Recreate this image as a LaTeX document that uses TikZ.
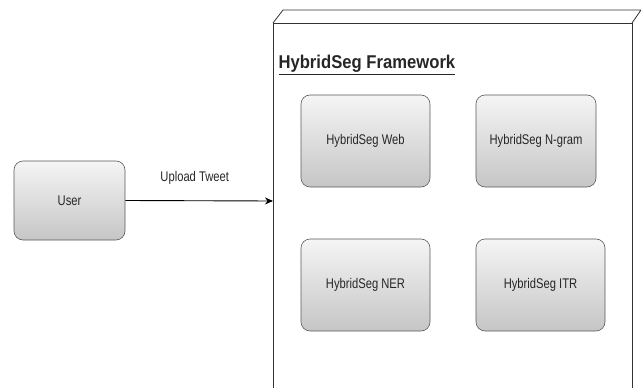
\documentclass[tikz,border=0pt]{standalone}
\usepackage{fontspec}
\setmainfont{Liberation Sans}
\newfontfamily\narrowfont[FakeStretch=0.8]{Liberation Sans}
\newfontfamily\titlefont[FakeStretch=0.9]{Liberation Sans}
\usetikzlibrary{arrows.meta}
\begin{document}
\begin{tikzpicture}[x=1pt,y=-1pt,
  box/.style={draw=gray!70!black,line width=0.6pt,rounded corners=9pt,
    top color=gray!8,bottom color=gray!45,font=\narrowfont\fontsize{14}{16}\selectfont,
    text=black!85,inner sep=0pt},
  frame/.style={draw=black!80,line width=0.8pt}]
\useasboundingbox (0,0) rectangle (641,388);
% cube frame
\coordinate (fl) at (273,23);
\coordinate (fr) at (632,23);
\coordinate (bl) at (283,10);
\coordinate (br) at (641,10);
\draw[frame] (273,400) -- (fl) -- (fr) -- (632,400);
\draw[frame] (fl) -- (bl) -- (br) -- (fr);
\draw[frame] (br) -- (641,400);
\node[anchor=base west,font=\titlefont\fontsize{18.5}{20}\selectfont\bfseries,text=black!85] (title) at (275,68.5) {\underline{HybridSeg Framework}};
% boxes
\node[box,minimum width=111pt,minimum height=79pt] (user) at (69.5,200.5) {User};
\node[box,minimum width=129pt,minimum height=92pt] (web) at (365.5,141) {HybridSeg Web};
\node[box,minimum width=120pt,minimum height=92pt] (ngram) at (536,141) {HybridSeg N-gram};
\node[box,minimum width=129pt,minimum height=92pt] (ner) at (365.5,285) {HybridSeg NER};
\node[box,minimum width=129pt,minimum height=92pt] (itr) at (540.5,285) {HybridSeg ITR};
\coordinate (fin) at (273,201);
\draw[line width=0.9pt,-{Stealth[length=8pt,width=7pt]}] (user.east) -- (fin)
  node[pos=0.47,above=13pt,font=\narrowfont\fontsize{14}{16}\selectfont,text=black!85] (lbl) {Upload Tweet};
\end{tikzpicture}
\end{document}
